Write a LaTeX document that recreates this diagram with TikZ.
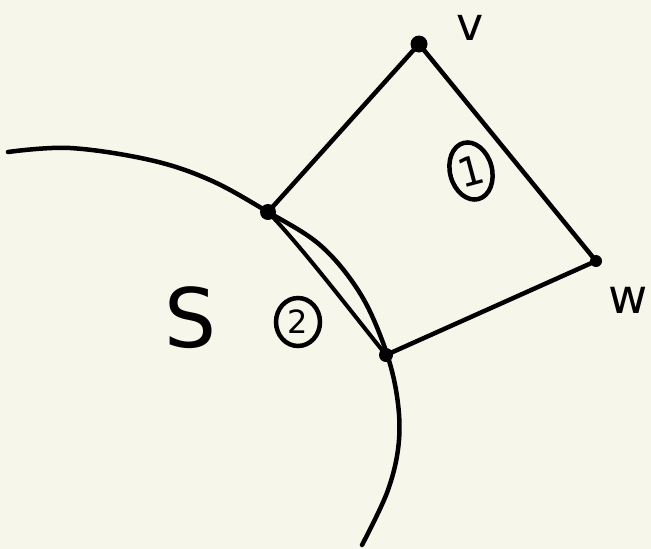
\documentclass[tikz,border=0pt]{standalone}
\usepackage{fontspec}
\setmainfont{DejaVu Sans}
\definecolor{paper}{HTML}{F7F6EA}
\tikzset{
  ink/.style={line width=4.5pt, line cap=round, line join=round, black},
  vdot/.style={circle, fill=black, inner sep=0pt, minimum size=#1},
  lbl/.style={font=\fontsize{#1}{#1}\selectfont, inner sep=0pt},
  ring/.style={draw, line width=4.5pt, ellipse, inner sep=0pt}
}
\usetikzlibrary{shapes.geometric}
\begin{document}
\begin{tikzpicture}[x=1pt,y=-1pt]
\fill[paper] (0,0) rectangle (651,549);
\useasboundingbox (0,0) rectangle (651,549);
% vertices
\coordinate (v) at (419,44);
\coordinate (w) at (596,261);
\coordinate (u) at (268,212);
\coordinate (x) at (386,355);
\coordinate (s0) at (8,152);
\coordinate (s1) at (362,545);
% boundary curve of S
\draw[ink] plot[smooth, tension=0.6] coordinates {(s0) (70,148) (150,160) (210,180) (u) (320,245) (358,290) (382,340) (396,390) (399,440) (388,490) (s1)};
% second edge u--x
\draw[ink, line width=4pt] (u) .. controls (300,245) and (350,310) .. (x);
% quadrilateral edges
\draw[ink] (u) -- (v);
\draw[ink] (v) -- (w);
\draw[ink] (w) -- (x);
% dots
\node[vdot=17pt] (vd) at (v) {};
\node[vdot=16pt] (ud) at (u) {};
\node[vdot=14pt] (xd) at (x) {};
\node[vdot=12pt] (wd) at (w) {};
% labels
\node[lbl=46] (vl) at (470,28) {v};
\node[lbl=48] (wl) at (628,300) {w};
\node[lbl=82] (Sl) at (191,318) {S};
\node[ring, minimum width=42pt, minimum height=58pt, rotate=15, font=\fontsize{40}{40}\selectfont] (c1) at (471,171) {1};
\node[ring, minimum width=44pt, minimum height=48pt, font=\fontsize{32}{32}\selectfont] (c2) at (298,322) {2};
\end{tikzpicture}
\end{document}
